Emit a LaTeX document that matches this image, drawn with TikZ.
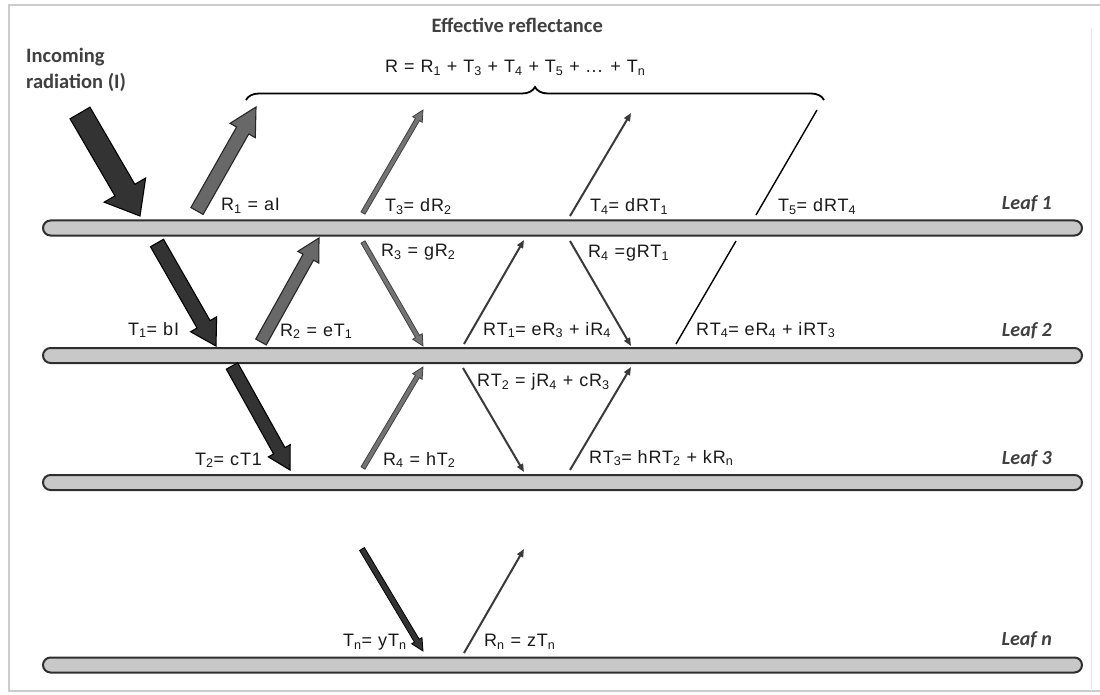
\documentclass[tikz,border=0pt]{standalone}
\usepackage{fontspec}
\setmainfont[LetterSpace=5]{Liberation Sans}
\newfontfamily\calfont{Carlito}
\usetikzlibrary{calc,arrows.meta,decorations.pathreplacing}

\definecolor{barfill}{HTML}{C8C8C8}
\definecolor{barline}{HTML}{2E2E2E}
\definecolor{darkfill}{HTML}{333333}
\definecolor{midfill}{HTML}{686868}
\definecolor{slimfill}{HTML}{747474}
\definecolor{thinline}{HTML}{3A3A3A}
\definecolor{labelgray}{HTML}{404040}
\definecolor{framecol}{HTML}{CCCCCC}

\tikzset{
  leafbar/.style={draw=barline, fill=barfill, line width=2pt, rounded corners=7.5pt,
    minimum height=15pt, minimum width=1039pt, inner sep=0pt},
  fatdark/.style={fill=darkfill, draw=black, line width=1.1pt, line join=miter},
  fatmid/.style={fill=midfill, draw=black!85, line width=1.1pt, line join=miter},
  slimmid/.style={fill=slimfill, draw=black!75, line width=0.8pt, line join=miter},
  slimdark/.style={fill=darkfill, draw=black, line width=0.8pt, line join=miter},
  ray/.style={draw=thinline, line width=2pt, -{Triangle[length=8pt,width=6.5pt]}},
  plainray/.style={draw=black, line width=1.4pt},
  eq/.style={anchor=base west, inner sep=0pt, text=black!90,
    font=\fontsize{18}{22}\selectfont},
  heading/.style={anchor=base west, inner sep=0pt, text=labelgray,
    font=\calfont\bfseries\fontsize{20.5}{25}\selectfont},
  leaflabel/.style={anchor=base east, inner sep=0pt, text=labelgray,
    font=\calfont\bfseries\itshape\fontsize{20}{24}\selectfont},
}

% block arrow: style, tail, tip, half shaft width, half head width, head length
\newcommand\fatarrow[6]{%
  \coordinate (fa-h) at ($(#3)!#6pt!(#2)$);
  \filldraw[#1] ($(#2)!#4pt!90:(#3)$) -- ($(fa-h)!#4pt!90:(#3)$)
    -- ($(fa-h)!#5pt!90:(#3)$) -- (#3) -- ($(fa-h)!#5pt!-90:(#3)$)
    -- ($(fa-h)!#4pt!-90:(#3)$) -- ($(#2)!#4pt!-90:(#3)$) -- cycle;}

\begin{document}
\begin{tikzpicture}[x=1pt,y=-1pt]
\useasboundingbox (0,0) rectangle (1100,695);

% frame
\draw[framecol, line width=1.8pt] (1100,5) -- (9,5) -- (9,691) -- (1100,691);
\draw[framecol!45, line width=1pt] (1091,28) -- (1091,691);

% leaves
\node[leafbar] (leaf1) at (562.5,228) {};
\node[leafbar] (leaf2) at (562.5,355.5) {};
\node[leafbar] (leaf3) at (562.5,482.5) {};
\node[leafbar] (leafn) at (562.5,665) {};

\node[leaflabel] (lab1) at (1052,210) {Leaf 1};
\node[leaflabel] (lab2) at (1052,336.5) {Leaf 2};
\node[leaflabel] (lab3) at (1052,464) {Leaf 3};
\node[leaflabel] (labn) at (1052,645) {Leaf n};

% headings
\node[heading] (inc1) at (26,62.7) {Incoming};
\node[heading] (inc2) at (26,88.5) {radiation (I)};
\node[heading] (eff) at (431.5,32.7) {Effective reflectance};
\node[eq] (sum) at (385,73) {R = R\textsubscript{1} + T\textsubscript{3} + T\textsubscript{4} + T\textsubscript{5} + ... + T\textsubscript{n}};

% brace over the upward rays
\coordinate (brL) at (246,100);
\coordinate (brR) at (824,100);
\draw[line width=1.8pt, decorate, decoration={brace, amplitude=13pt}] (brL) -- (brR);

% ray end points
\coordinate (inS) at (80,113);   \coordinate (inE) at (140,216);
\coordinate (r1S) at (197,211);  \coordinate (r1E) at (256,107);
\coordinate (t3S) at (363,213);  \coordinate (t3E) at (423,110);
\coordinate (t4S) at (570,216);  \coordinate (t4E) at (631,113);
\coordinate (t5S) at (756,215);  \coordinate (t5E) at (817,110);

\coordinate (t1S) at (157,243);  \coordinate (t1E) at (216,346);
\coordinate (r2S) at (261,342);  \coordinate (r2E) at (319,238);
\coordinate (r3S) at (363,242);  \coordinate (r3E) at (423,346);
\coordinate (rt1S) at (464,344); \coordinate (rt1E) at (524,240);
\coordinate (r4aS) at (570,241); \coordinate (r4aE) at (631,346);
\coordinate (rt4S) at (676,344); \coordinate (rt4E) at (736,241);

\coordinate (t2S) at (232,366);  \coordinate (t2E) at (290,470);
\coordinate (r4bS) at (363,468); \coordinate (r4bE) at (423,367);
\coordinate (rt2S) at (463,368); \coordinate (rt2E) at (524,472);
\coordinate (rt3S) at (570,470); \coordinate (rt3E) at (631,367);

\coordinate (tnS) at (362,549);  \coordinate (tnE) at (423,651);
\coordinate (rnS) at (464,653);  \coordinate (rnE) at (524,549);

% block arrows
\fatarrow{fatdark}{inS}{inE}{11.5}{24}{30}
\fatarrow{fatmid}{r1S}{r1E}{7}{14.5}{27}
\fatarrow{fatdark}{t1S}{t1E}{7.5}{15}{25}
\fatarrow{fatmid}{r2S}{r2E}{6}{12}{22}
\fatarrow{fatdark}{t2S}{t2E}{6.5}{12.5}{22}

% slim block arrows
\fatarrow{slimmid}{t3S}{t3E}{2.3}{5.5}{11}
\fatarrow{slimmid}{r3S}{r3E}{2.3}{5.5}{11}
\fatarrow{slimmid}{r4bS}{r4bE}{2.3}{5.5}{11}
\fatarrow{slimdark}{tnS}{tnE}{2.8}{6}{12}

% line rays
\draw[ray] (t4S) -- (t4E);
\draw[ray] (rt1S) -- (rt1E);
\draw[ray] (r4aS) -- (r4aE);
\draw[ray] (rt2S) -- (rt2E);
\draw[ray] (rt3S) -- (rt3E);
\draw[ray] (rnS) -- (rnE);
\draw[plainray] (t5S) -- (t5E);
\draw[plainray] (rt4S) -- (rt4E);

% equations
\node[eq] (eR1) at (221,211) {R\textsubscript{1} = aI};
\node[eq] (eT3) at (385,211.5) {T\textsubscript{3}= dR\textsubscript{2}};
\node[eq] (eT4) at (590,211.5) {T\textsubscript{4}= dRT\textsubscript{1}};
\node[eq] (eT5) at (778,211.5) {T\textsubscript{5}= dRT\textsubscript{4}};

\node[eq] (eR3) at (381,256.5) {R\textsubscript{3} = gR\textsubscript{2}};
\node[eq] (eR4a) at (588,257.5) {R\textsubscript{4} =gRT\textsubscript{1}};
\node[eq] (eT1) at (128,335) {T\textsubscript{1}= bI};
\node[eq] (eR2) at (280,336) {R\textsubscript{2} = eT\textsubscript{1}};
\node[eq] (eRT1) at (483,335) {RT\textsubscript{1}= eR\textsubscript{3} + iR\textsubscript{4}};
\node[eq] (eRT4) at (696,335) {RT\textsubscript{4}= eR\textsubscript{4} + iRT\textsubscript{3}};

\node[eq] (eRT2) at (477,386.5) {RT\textsubscript{2} = jR\textsubscript{4} + cR\textsubscript{3}};
\node[eq] (eT2) at (195,465) {T\textsubscript{2}= cT1};
\node[eq] (eR4b) at (383,465) {R\textsubscript{4} = hT\textsubscript{2}};
\node[eq] (eRT3) at (589,463) {RT\textsubscript{3}= hRT\textsubscript{2} + kR\textsubscript{n}};

\node[eq] (eTn) at (343,646.5) {T\textsubscript{n}= yT\textsubscript{n}};
\node[eq] (eRn) at (484,646.5) {R\textsubscript{n} = zT\textsubscript{n}};
\end{tikzpicture}
\end{document}
